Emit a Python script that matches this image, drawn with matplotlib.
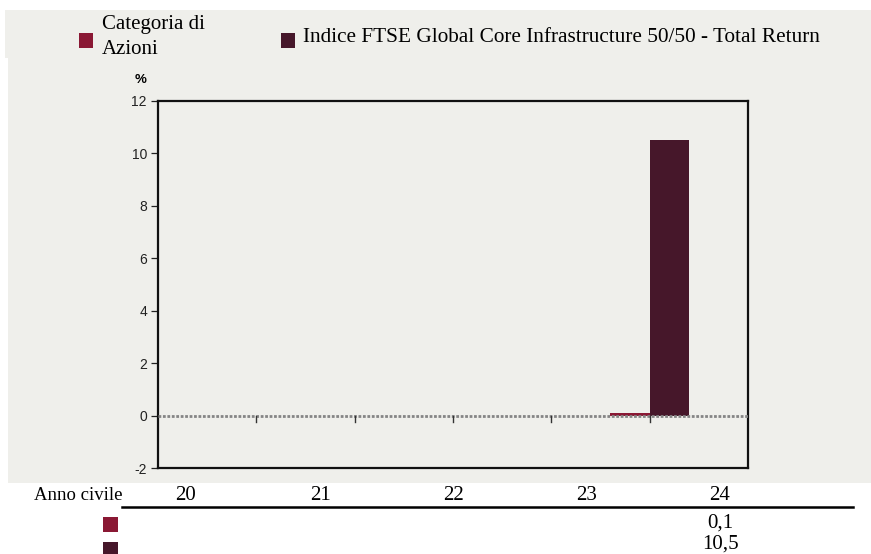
import matplotlib
matplotlib.use("Agg")
import matplotlib.pyplot as plt
from matplotlib.patches import Rectangle
from matplotlib.lines import Line2D

# ---- data ----
years = ["20", "21", "22", "23", "24"]
categoria = [None, None, None, None, 0.1]
indice = [None, None, None, None, 10.5]
series_names = ["Categoria di\nAzioni", "Indice FTSE Global Core Infrastructure 50/50 - Total Return"]
table_cat = ["", "", "", "", "0,1"]
table_idx = ["", "", "", "", "10,5"]
yticks = [-2, 0, 2, 4, 6, 8, 10, 12]

RED = "#8A1834"
DARK = "#46172A"
BG = "#EFEFEB"

W, H = 871, 554
fig = plt.figure(figsize=(W / 100, H / 100), dpi=100)
fig.patch.set_facecolor("white")

def fx(px):
    return px / W

def fy(py):
    return 1 - py / H

def frect(x0, y0, w, h, color, z=1):
    r = Rectangle((fx(x0), fy(y0 + h)), w / W, h / H, transform=fig.transFigure,
                  facecolor=color, edgecolor="none", zorder=z)
    fig.patches.append(r)

# gray background
frect(5, 10, 866, 48, BG, z=-5)
frect(8, 58, 863, 425, BG, z=-5)

serif = ["Liberation Serif", "DejaVu Serif"]
sans = ["Liberation Sans Narrow", "Liberation Sans", "DejaVu Sans"]

ax = fig.add_axes([fx(158), fy(468), fx(748 - 158), (468 - 101) / H])
ax.set_zorder(2)
ax.set_facecolor(BG)
ax.set_xlim(-1, 5)
ax.set_ylim(-2, 12)

x = list(range(len(years)))
bw = 0.4
cx = [i for i, v in zip(x, categoria) if v is not None]
cv = [v for v in categoria if v is not None]
ix = [i for i, v in zip(x, indice) if v is not None]
iv = [v for v in indice if v is not None]
ax.bar([c - bw for c in cx], cv, width=bw, align="edge", color=RED, zorder=3)
ax.bar(ix, iv, width=bw, align="edge", color=DARK, zorder=3)

ax.axhline(0, color="#858585", lw=2.0, ls=(0, (1, 0.6)), zorder=4)
for xi in x:
    ax.plot([xi, xi], [0, -0.25], color="#333333", lw=1.0, zorder=5, clip_on=False)

ax.set_xticks([])
ax.set_yticks(yticks)
ax.set_yticklabels([str(t) for t in yticks], fontfamily=sans, fontsize=10)
ax.tick_params(axis="y", length=5, width=0.9, pad=3, colors="#222222")
for s in ax.spines.values():
    s.set_linewidth(1.6)
    s.set_color("#111111")

fig.text(fx(141), fy(80), "%", fontfamily=sans, fontsize=9.5, ha="center", va="center", fontweight="bold")

# legend
frect(79, 33, 14, 15, RED, z=3)
fig.text(fx(102), fy(37), series_names[0], fontfamily=serif, fontsize=15, ha="left", va="center",
         linespacing=1.37)
frect(281, 33, 14, 15, DARK, z=3)
fig.text(fx(303), fy(37), series_names[1], fontfamily=serif, fontsize=15.3, ha="left", va="center")

# table
fig.text(fx(122), fy(496), "Anno civile", fontfamily=serif, fontsize=13.5, ha="right", va="center")
fig.add_artist(Line2D([fx(122), fx(853)], [fy(507), fy(507)], transform=fig.transFigure,
                      color="black", lw=1.8))
col_x = [186, 320, 453, 587, 720]
for cxp, yl, a, b in zip(col_x, years, table_cat, table_idx):
    fig.text(fx(cxp), fy(495), yl, fontfamily=serif, fontsize=15, ha="center", va="center")
    if a:
        fig.text(fx(cxp), fy(523), a, fontfamily=serif, fontsize=15, ha="center", va="center")
    if b:
        fig.text(fx(cxp), fy(544), b, fontfamily=serif, fontsize=15, ha="center", va="center")
frect(103, 517, 15, 15, RED, z=3)
frect(103, 542, 15, 15, DARK, z=3)

fig.savefig("out.png", dpi=100, facecolor=fig.get_facecolor())
